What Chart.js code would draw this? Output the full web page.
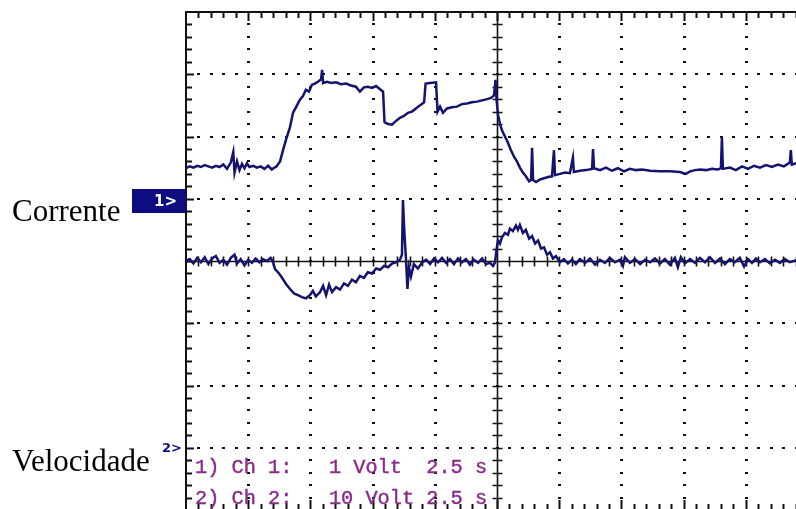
<!DOCTYPE html>
<html>
<head>
<meta charset="utf-8">
<script src="https://cdn.jsdelivr.net/npm/chart.js@4.4.1/dist/chart.umd.min.js"></script>
<style>
  html, body { margin: 0; padding: 0; background: #fff; overflow: hidden; width: 796px; height: 509px; }
  #wrap { position: absolute; left: 0; top: 0; width: 830px; height: 530px; }
  .lbl { position: absolute; font-family: "Liberation Serif", "Times New Roman", serif; font-size: 31px; color: #000; line-height: 1; }
  #m1 { position: absolute; left: 132px; top: 189px; width: 54px; height: 24px; background: #0d0d80; }
  #m1 span { position: absolute; left: 22px; top: 3px; color: #fff; font: bold 15px "DejaVu Sans", sans-serif; }
  #m2 { position: absolute; left: 162px; top: 440px; color: #0d0d80; font: bold 13px "DejaVu Sans", sans-serif; }
  .info { position: absolute; left: 195px; font-family: "Liberation Mono", "Courier New", monospace; font-size: 20.3px; color: #8a2a8a; white-space: pre; line-height: 1; -webkit-text-stroke: 0.4px #8a2a8a; }
</style>
</head>
<body>
<div id="wrap"><canvas id="scope" width="830" height="530"></canvas></div>
<div class="lbl" style="left:12px; top:195px;">Corrente</div>
<div class="lbl" style="left:12px; top:445px;">Velocidade</div>
<div id="m1"><span>1&gt;</span></div>
<div id="m2">2&gt;</div>
<div class="info" style="top:458px;">1) Ch 1:   1 Volt  2.5 s</div>
<div class="info" style="top:489px;">2) Ch 2:   10 Volt 2.5 s</div>
<script>
/* oscilloscope capture: current (ch1) and speed (ch2), y in screen divisions */

const SEC_PER_DIV = 2.5;
const X_DIVS = 10;
const Y_DIVS = 8;

// channel 1 - corrente
const curT = [0.00, 0.15, 0.30, 0.45, 0.60, 0.75, 0.90, 1.05, 1.20, 1.35, 1.50, 1.65, 1.80, 1.90, 1.95, 2.05, 2.15, 2.25, 2.35, 2.45,
  2.55, 2.70, 2.85, 3.00, 3.15, 3.30, 3.45, 3.55, 3.62, 3.78, 3.90, 4.02, 4.18, 4.30, 4.46, 4.58, 4.70, 4.82, 4.94, 5.06,
  5.18, 5.30, 5.43, 5.47, 5.51, 5.67, 5.83, 6.03, 6.23, 6.43, 6.63, 6.83, 6.99, 7.15, 7.31, 7.48, 7.64, 7.80, 7.92, 7.98,
  8.12, 8.28, 8.44, 8.60, 8.76, 8.92, 9.08, 9.24, 9.40, 9.57, 9.63, 9.81, 10.05, 10.11, 10.21, 10.33, 10.49, 10.69, 10.89, 11.09,
  11.29, 11.49, 11.69, 11.90, 12.10, 12.26, 12.38, 12.44, 12.48, 12.54, 12.62, 12.70, 12.82, 12.94, 13.06, 13.18, 13.30, 13.42, 13.54, 13.66,
  13.79, 13.87, 13.91, 13.95, 14.07, 14.23, 14.39, 14.55, 14.71, 14.79, 14.83, 15.03, 15.23, 15.43, 15.55, 15.59, 15.83, 16.08, 16.32, 16.36,
  16.40, 16.64, 16.88, 17.12, 17.36, 17.60, 17.84, 18.09, 18.33, 18.65, 19.05, 19.45, 19.85, 20.09, 20.26, 20.46, 20.66, 20.90, 21.14, 21.38,
  21.50, 21.54, 21.58, 21.86, 22.10, 22.35, 22.59, 22.83, 23.07, 23.31, 23.55, 23.79, 24.03, 24.27, 24.31, 24.35, 24.52, 24.68];
const curY = [1.49, 1.52, 1.50, 1.53, 1.51, 1.54, 1.52, 1.50, 1.53, 1.51, 1.55, 1.48, 1.58, 1.75, 1.42, 1.60, 1.46, 1.56, 1.49, 1.57,
  1.51, 1.53, 1.50, 1.52, 1.48, 1.53, 1.47, 1.50, 1.51, 1.60, 1.78, 1.95, 2.15, 2.38, 2.50, 2.59, 2.65, 2.75, 2.72, 2.83,
  2.85, 2.88, 2.92, 3.07, 2.86, 2.88, 2.86, 2.87, 2.84, 2.85, 2.82, 2.80, 2.72, 2.79, 2.80, 2.78, 2.81, 2.76, 2.72, 2.23,
  2.20, 2.19, 2.25, 2.30, 2.33, 2.38, 2.40, 2.45, 2.50, 2.55, 2.85, 2.86, 2.87, 2.40, 2.48, 2.38, 2.45, 2.47, 2.48, 2.52,
  2.53, 2.55, 2.56, 2.58, 2.60, 2.62, 2.66, 2.91, 2.60, 2.35, 2.20, 2.10, 2.00, 1.90, 1.78, 1.68, 1.60, 1.50, 1.42, 1.36,
  1.28, 1.30, 1.82, 1.30, 1.27, 1.31, 1.33, 1.35, 1.36, 1.78, 1.38, 1.40, 1.42, 1.41, 1.66, 1.43, 1.45, 1.46, 1.48, 1.80,
  1.49, 1.46, 1.50, 1.45, 1.49, 1.44, 1.48, 1.46, 1.47, 1.45, 1.44, 1.44, 1.43, 1.40, 1.44, 1.46, 1.47, 1.46, 1.48, 1.47,
  1.49, 1.98, 1.48, 1.50, 1.46, 1.52, 1.48, 1.53, 1.50, 1.54, 1.51, 1.55, 1.52, 1.58, 1.78, 1.55, 1.57, 1.56];

// channel 2 - velocidade
const velT = [0.00, 0.15, 0.30, 0.45, 0.60, 0.75, 0.90, 1.05, 1.20, 1.35, 1.50, 1.65, 1.80, 1.95, 2.05, 2.20, 2.35, 2.50, 2.65, 2.80,
  2.95, 3.10, 3.25, 3.40, 3.50, 3.58, 3.74, 3.86, 4.02, 4.18, 4.34, 4.50, 4.66, 4.82, 4.98, 5.10, 5.22, 5.39, 5.51, 5.63,
  5.75, 5.87, 6.03, 6.19, 6.35, 6.51, 6.67, 6.83, 6.99, 7.15, 7.31, 7.48, 7.64, 7.80, 7.96, 8.12, 8.28, 8.44, 8.60, 8.68,
  8.72, 8.76, 8.80, 8.84, 8.90, 8.96, 9.04, 9.16, 9.32, 9.48, 9.65, 9.81, 9.97, 10.13, 10.29, 10.45, 10.61, 10.77, 10.93, 11.09,
  11.25, 11.41, 11.57, 11.74, 11.90, 12.06, 12.22, 12.34, 12.42, 12.48, 12.54, 12.62, 12.70, 12.82, 12.94, 13.02, 13.14, 13.26, 13.34, 13.42,
  13.54, 13.66, 13.79, 13.91, 14.03, 14.15, 14.27, 14.39, 14.51, 14.63, 14.75, 14.87, 15.03, 15.19, 15.35, 15.51, 15.67, 15.83, 16.04, 16.24,
  16.44, 16.64, 16.84, 17.04, 17.24, 17.44, 17.56, 17.64, 17.84, 18.05, 18.25, 18.45, 18.65, 18.85, 19.05, 19.25, 19.45, 19.65, 19.77, 19.89,
  20.05, 20.26, 20.46, 20.66, 20.86, 21.06, 21.26, 21.46, 21.66, 21.86, 22.06, 22.26, 22.43, 22.59, 22.75, 22.91, 23.07, 23.27, 23.47, 23.67,
  23.87, 24.07, 24.27, 24.52, 24.68];
const velY = [0.00, 0.03, -0.04, 0.05, -0.02, 0.06, -0.05, 0.04, 0.08, -0.03, 0.02, -0.06, 0.05, 0.10, -0.04, 0.03, -0.07, 0.02, -0.03, 0.04,
  -0.02, 0.03, 0.00, 0.05, -0.02, -0.13, -0.20, -0.27, -0.37, -0.45, -0.52, -0.55, -0.58, -0.60, -0.55, -0.48, -0.57, -0.50, -0.40, -0.55,
  -0.38, -0.50, -0.42, -0.46, -0.36, -0.40, -0.30, -0.34, -0.24, -0.27, -0.18, -0.20, -0.12, -0.14, -0.08, -0.10, -0.04, -0.02, 0.02, 0.10,
  0.98, 0.60, 0.30, 0.05, -0.45, -0.10, -0.25, -0.05, -0.12, -0.03, 0.02, -0.05, 0.04, -0.02, 0.05, -0.03, 0.03, -0.05, 0.04, -0.02,
  0.03, -0.06, 0.02, -0.03, 0.04, -0.05, -0.03, -0.08, -0.02, 0.18, 0.33, 0.28, 0.38, 0.45, 0.42, 0.52, 0.48, 0.57, 0.50, 0.58,
  0.45, 0.50, 0.36, 0.40, 0.28, 0.33, 0.20, 0.22, 0.10, 0.14, 0.04, 0.08, -0.02, 0.03, -0.04, 0.02, -0.05, 0.03, -0.03, 0.04,
  -0.06, 0.02, -0.03, 0.05, -0.02, 0.02, -0.08, 0.06, -0.03, 0.03, -0.05, 0.02, -0.02, 0.04, -0.04, 0.03, -0.06, 0.05, -0.10, 0.06,
  -0.04, 0.03, -0.03, 0.05, -0.02, 0.06, -0.03, 0.04, -0.05, 0.03, -0.02, 0.05, -0.09, 0.03, -0.03, 0.04, -0.02, 0.03, -0.04, 0.02,
  -0.03, 0.03, -0.02, 0.01, 0.00];

const TRACE = "#14146e";
const INK = "#111";

const pts = (ts, ys) => ts.map((t, i) => ({ x: t, y: ys[i] }));

/* graticule: dotted divisions, centre cross and border, all placed through the scales */
const graticule = {
  id: "graticule",
  beforeDatasetsDraw(chart) {
    const { ctx, chartArea: a, scales: { x, y } } = chart;
    const px = (d) => x.getPixelForValue(d * SEC_PER_DIV);
    const py = (d) => y.getPixelForValue(d - Y_DIVS / 2);
    ctx.save();
    ctx.fillStyle = INK;
    ctx.strokeStyle = INK;

    for (let i = 1; i < X_DIVS; i++) {
      if (i === X_DIVS / 2) continue;
      const gx = Math.round(px(i));
      for (let j = 1; j < Y_DIVS * 5; j++) ctx.fillRect(gx - 1, Math.round(py(j / 5)) - 1, 3, 2);
    }
    for (let i = 1; i < Y_DIVS; i++) {
      if (i === Y_DIVS / 2) continue;
      const gy = Math.round(py(i));
      for (let j = 1; j < X_DIVS * 5; j++) ctx.fillRect(Math.round(px(j / 5)) - 1, gy - 1, 3, 2);
    }

    // centre cross with minor ticks
    const cx = Math.round(px(X_DIVS / 2)) + 0.5;
    const cy = Math.round(py(Y_DIVS / 2)) + 0.5;
    ctx.lineWidth = 1.6;
    ctx.beginPath();
    ctx.moveTo(cx, a.top); ctx.lineTo(cx, a.bottom);
    ctx.moveTo(a.left, cy); ctx.lineTo(a.right, cy);
    for (let j = 1; j < Y_DIVS * 5; j++) {
      const ty = Math.round(py(j / 5)) + 0.5;
      ctx.moveTo(cx - 5, ty); ctx.lineTo(cx + 5, ty);
    }
    for (let j = 1; j < X_DIVS * 5; j++) {
      const tx = Math.round(px(j / 5)) + 0.5;
      ctx.moveTo(tx, cy - 5); ctx.lineTo(tx, cy + 5);
    }
    ctx.stroke();

    // border and inward ticks
    ctx.lineWidth = 2;
    ctx.strokeRect(a.left, a.top, a.right - a.left, a.bottom - a.top);
    ctx.beginPath();
    for (let j = 1; j < X_DIVS * 5; j++) {
      const tx = Math.round(px(j / 5)) + 0.5;
      const major = j % 5 === 0;
      ctx.moveTo(tx, a.top); ctx.lineTo(tx, a.top + (major ? 9 : 6));
      ctx.moveTo(tx, a.bottom); ctx.lineTo(tx, a.bottom - (major ? 10 : 6));
    }
    for (let j = 1; j < Y_DIVS * 5; j++) {
      const ty = Math.round(py(j / 5)) + 0.5;
      ctx.moveTo(a.left, ty); ctx.lineTo(a.left + (j % 5 === 0 ? 8 : 6), ty);
      ctx.moveTo(a.right, ty); ctx.lineTo(a.right - 6, ty);
    }
    ctx.stroke();
    ctx.restore();
  },
};

new Chart(document.getElementById("scope"), {
  type: "line",
  data: {
    datasets: [
      { label: "Corrente", data: pts(curT, curY), borderColor: TRACE, borderWidth: 2.5, pointRadius: 0, tension: 0 },
      { label: "Velocidade", data: pts(velT, velY), borderColor: TRACE, borderWidth: 2.5, pointRadius: 0, tension: 0 },
    ],
  },
  options: {
    responsive: false,
    animation: false,
    layout: { padding: { left: 186, top: 12, right: 22, bottom: 20 } },
    plugins: { legend: { display: false }, tooltip: { enabled: false } },
    scales: {
      x: { type: "linear", min: 0, max: X_DIVS * SEC_PER_DIV, display: false },
      y: { type: "linear", min: -Y_DIVS / 2, max: Y_DIVS / 2, display: false },
    },
  },
  plugins: [graticule],
});
</script>
</body>
</html>
